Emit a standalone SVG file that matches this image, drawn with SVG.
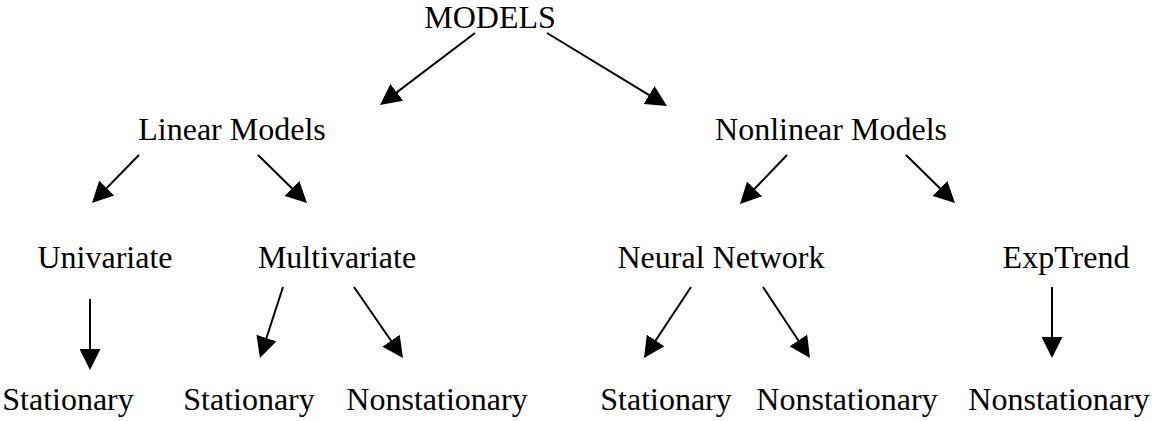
<svg xmlns="http://www.w3.org/2000/svg" width="1152" height="421" viewBox="0 0 1152 421">
<style>
text { font-family: "Liberation Serif", "Times New Roman", serif; font-size: 32px; fill: #000; text-anchor: middle; }
.edge { stroke: #000; stroke-width: 2; fill: none; marker-end: url(#ah); }
</style>
<defs>
<marker id="ah" markerUnits="userSpaceOnUse" markerWidth="21" markerHeight="21" refX="17" refY="10.5" orient="auto">
<path d="M0,0 L21,10.5 L0,21 z" fill="#000"/>
</marker>
</defs>
<rect width="1152" height="421" fill="#fff"/>
<g id="connectors">
<line class="edge" x1="475" y1="33" x2="383.2" y2="102.6"/>
<line class="edge" x1="547" y1="33" x2="663.6" y2="103.9"/>
<line class="edge" x1="139" y1="155" x2="94.8" y2="200.1"/>
<line class="edge" x1="258" y1="155" x2="304.1" y2="200.2"/>
<line class="edge" x1="787" y1="155" x2="742.8" y2="201.1"/>
<line class="edge" x1="906" y1="155" x2="952.1" y2="200.2"/>
<line class="edge" x1="90" y1="299" x2="90" y2="366"/>
<line class="edge" x1="283" y1="287" x2="261.2" y2="354.2"/>
<line class="edge" x1="354" y1="287" x2="400.7" y2="354.7"/>
<line class="edge" x1="691" y1="287" x2="646.2" y2="354.7"/>
<line class="edge" x1="763" y1="287" x2="807.8" y2="354.7"/>
<line class="edge" x1="1052" y1="287" x2="1052" y2="354"/>
</g>
<g id="models"><text x="490" y="28">MODELS</text></g>
<g id="linear"><text x="232" y="140">Linear Models</text></g>
<g id="nonlinear"><text x="831" y="140">Nonlinear Models</text></g>
<g id="univariate"><text x="105" y="268">Univariate</text></g>
<g id="multivariate"><text x="337" y="268">Multivariate</text></g>
<g id="neural"><text x="721" y="268">Neural Network</text></g>
<g id="exptrend"><text x="1066" y="268">ExpTrend</text></g>
<g id="stat1"><text x="68" y="410">Stationary</text></g>
<g id="stat2"><text x="249" y="410">Stationary</text></g>
<g id="nonstat1"><text x="437" y="410">Nonstationary</text></g>
<g id="stat3"><text x="666" y="410">Stationary</text></g>
<g id="nonstat2"><text x="847" y="410">Nonstationary</text></g>
<g id="nonstat3"><text x="1059" y="410">Nonstationary</text></g>
</svg>
